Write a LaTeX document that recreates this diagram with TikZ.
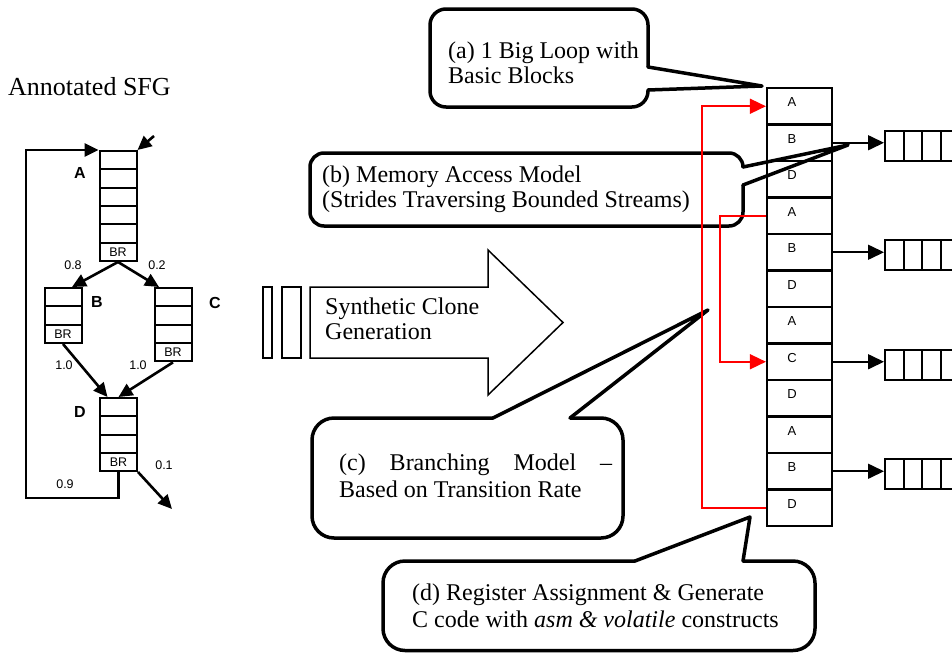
\documentclass[tikz,border=0pt]{standalone}
\usepackage{fontspec}
\setmainfont{Liberation Serif}
\setsansfont{Liberation Sans}
\usetikzlibrary{arrows.meta,calc}

\begin{document}
\begin{tikzpicture}[x=1pt,y=-1pt,
  sfgrow/.style={draw,line width=2pt,minimum width=37pt,minimum height=18.33pt,
    inner sep=0pt,fill=white,font=\sffamily\fontsize{12.5}{14}\selectfont},
  sfgline/.style={line width=2.6pt},
  sfgarrow/.style={sfgline,-{Triangle[length=14pt,width=13pt]}},
  blocklbl/.style={font=\sffamily\bfseries\fontsize{16}{18}\selectfont,inner sep=0pt},
  problbl/.style={font=\sffamily\fontsize{12.5}{14}\selectfont,inner sep=0pt},
  stackcell/.style={draw,line width=2.2pt,fill=white,minimum width=65pt,
    minimum height=36.5pt,inner sep=0pt},
  stacklbl/.style={font=\sffamily\fontsize{13}{15}\selectfont,inner sep=0pt},
  qcell/.style={draw,line width=2pt,fill=white,minimum width=18.7pt,
    minimum height=30pt,inner sep=0pt},
  qarrow/.style={line width=1.6pt,-{Triangle[length=16pt,width=15pt]}},
  redline/.style={draw=red,line width=1.6pt,-{Triangle[length=16pt,width=15pt]}},
  callout/.style={line width=3.5pt,line join=round,line cap=round},
  ctext/.style={font=\fontsize{24}{27}\selectfont,inner sep=0pt,anchor=base west},
  bigarrow/.style={line width=1.5pt,line join=miter},
]
\useasboundingbox (0,0) rectangle (952,653);

% ---------------- annotated SFG ----------------
\node[ctext,font=\fontsize{26}{28}\selectfont] (title) at (8,95) {Annotated SFG};

\foreach \i in {1,...,5}
  \node[sfgrow] (A\i) at (118,{151+18.33*(\i-0.5)}) {};
\node[sfgrow] (A6) at (118,{151+18.33*5.5}) {BR};

\foreach \i in {1,2}
  \node[sfgrow] (B\i) at (63,{288+18.33*(\i-0.5)}) {};
\node[sfgrow] (B3) at (63,{288+18.33*2.5}) {BR};

\foreach \i in {1,...,3}
  \node[sfgrow] (C\i) at (173,{288+18.33*(\i-0.5)}) {};
\node[sfgrow] (C4) at (173,{288+18.33*3.5}) {BR};

\foreach \i in {1,...,3}
  \node[sfgrow,minimum height=18.25pt] (D\i) at (118.5,{398+18.25*(\i-0.5)}) {};
\node[sfgrow,minimum height=18.25pt] (D4) at (118.5,{398+18.25*3.5}) {BR};

\node[blocklbl] (labA) at (80,173) {A};
\node[blocklbl] (labB) at (97,302) {B};
\node[blocklbl] (labC) at (215,303) {C};
\node[blocklbl] (labD) at (80,412) {D};

\node[problbl] (p08) at (73,265) {0.8};
\node[problbl] (p02) at (157,265) {0.2};
\node[problbl] (p10a) at (64,365) {1.0};
\node[problbl] (p10b) at (138,365) {1.0};
\node[problbl] (p01) at (164,465) {0.1};
\node[problbl] (p09) at (65,484) {0.9};

\coordinate (inA) at (154,136);
\coordinate (outD) at (172,509);
\draw[sfgarrow] (inA) -- (A1.north east);
\draw[sfgarrow] (A6.south) -- ($(B1.north)+(9,0)$);
\draw[sfgarrow] (A6.south) -- ($(C1.north)+(-14,0)$);
\draw[sfgarrow] (B3.south) -- ($(D1.north)+(-11,0)$);
\draw[sfgarrow] (C4.south) -- (D1.north);
\draw[sfgarrow] (D4.south east) -- (outD);
\draw[sfgarrow] (D4.south) |- (26,498) |- (A1.north west);

% ---------------- clone generation arrow ----------------
\draw[bigarrow] (263,287) rectangle (272,358);
\draw[bigarrow] (282,287) rectangle (301,358);
\draw[bigarrow] (310,287) -- (488,287) -- (488,250) -- (563,322.5)
  -- (488,395) -- (488,358) -- (310,358) -- cycle;
\node[ctext] (gen1) at (325,314) {Synthetic Clone};
\node[ctext] (gen2) at (325,339) {Generation};

% ---------------- big loop of basic blocks ----------------
\foreach \l [count=\i] in {A,B,D,A,B,D,A,C,D,A,B,D} {
  \node[stackcell] (s\i) at (799.5,{88+36.5*(\i-0.5)}) {};
  \node[stacklbl] (l\i) at (792,{88+36.5*(\i-0.5)-4}) {\l};
}

% memory streams
\foreach \r in {2,5,8,11} {
  \foreach \k in {1,...,4}
    \node[qcell] (q\r-\k) at ({885+18.7*(\k-0.5)},{88+36.5*(\r-0.5)+3}) {};
  \draw[qarrow] (s\r.east) -- (s\r.east -| q\r-1.west);
}

% ---------------- callouts ----------------
% (a)
\draw[callout,fill=white,rounded corners=16pt]
  (648,67) -- (648,9) -- (430,9) -- (430,107) -- (648,107) -- (648,90);
\coordinate (tipa) at (762,86);
\draw[callout] (648,67) -- (tipa) -- (648,90);
\node[ctext] (ta1) at (448,58) {(a) 1 Big Loop with};
\node[ctext] (ta2) at (448,83) {Basic Blocks};

% (b)
\draw[callout,fill=white,rounded corners=14pt]
  (743,167) -- (743,153) -- (310,153) -- (310,226) -- (743,226) -- (743,185);
\coordinate (tipb) at (848,145);
\draw[callout] (743,167) -- (tipb) -- (743,185);
\node[ctext] (tb1) at (322,182) {(b) Memory Access Model};
\node[ctext] (tb2) at (322,207) {(Strides Traversing Bounded Streams)};

% (c)
\draw[callout,fill=white,rounded corners=22pt]
  (493,418) -- (312,418) -- (312,538) -- (623,538) -- (623,418) -- (570,418);
\coordinate (tipc) at (708,310);
\draw[callout] (493,418) -- (tipc) -- (570,418);
\node[ctext] (tc1) at (339,470) {\makebox[273pt][s]{(c) Branching Model –}};
\node[ctext] (tc2) at (339,497) {Based on Transition Rate};

% (d)
\draw[callout,fill=white,rounded corners=22pt]
  (635,561) -- (383,561) -- (383,650.5) -- (815,650.5) -- (815,561) -- (743,561);
\coordinate (tipd) at (750,517);
\draw[callout] (635,561) -- (tipd) -- (743,561);
\node[ctext] (td1) at (412,600) {(d) Register Assignment \& Generate};
\node[ctext] (td2) at (412,627) {C code with \textit{asm \& volatile} constructs};

% ---------------- control transfers ----------------
\draw[redline] (s12.west) -- ++(-64,0) |- (s1.west);
\draw[redline] (s4.west) -- ++(-46,0) |- (s8.west);
\end{tikzpicture}
\end{document}
